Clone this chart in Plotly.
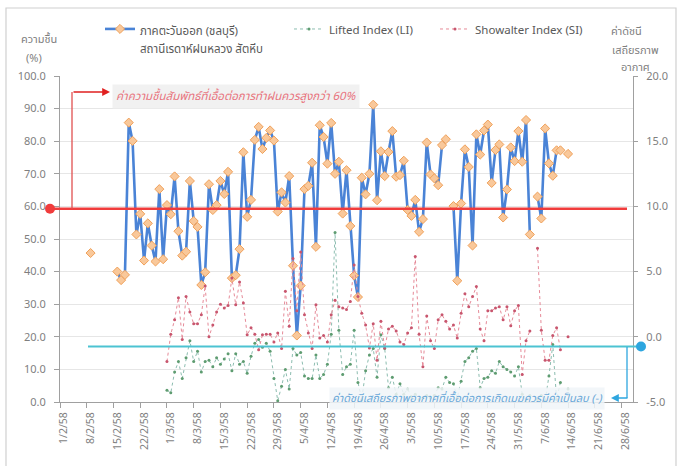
import datetime as dt
import plotly.graph_objects as go

# ---------------- data ----------------
tick_dates = ["2015-02-01", "2015-02-08", "2015-02-15", "2015-02-22", "2015-03-01", "2015-03-08",
              "2015-03-15", "2015-03-22", "2015-03-29", "2015-04-05", "2015-04-12", "2015-04-19",
              "2015-04-26", "2015-05-03", "2015-05-10", "2015-05-17", "2015-05-24", "2015-05-31",
              "2015-06-07", "2015-06-14", "2015-06-21", "2015-06-28"]
tick_labels = ["1/2/58", "8/2/58", "15/2/58", "22/2/58", "1/3/58", "8/3/58", "15/3/58", "22/3/58",
               "29/3/58", "5/4/58", "12/4/58", "19/4/58", "26/4/58", "3/5/58", "10/5/58", "17/5/58",
               "24/5/58", "31/5/58", "7/6/58", "14/6/58", "21/6/58", "28/6/58"]

# relative humidity (%), daily from 9/2/58 (None = no observation)
humidity_start = "2015-02-09"
humidity = [45.7, None, None, None, None, None, None,
            40.0, 37.4, 39.0, 85.7, 80.1, 51.4, 57.7, 43.4, 54.8, 48.0, 43.1, 65.3, 43.8,
            60.4, 57.6, 69.2, 52.4, 44.9, 46.1, 67.8, 55.5, 53.7, 35.9, 39.8, 66.8, 58.9,
            60.4, 67.8, 63.8, 70.6, 38.0, 38.9, 46.9, 76.6, 56.8, 62.0, 80.4, 84.4, 77.6,
            81.0, 83.3, 80.2, 58.4, 64.3,
            61.2, 69.3, 41.8, 20.4, 35.7, 65.3, 66.3, 73.4, 47.6, 84.9, 81.3, 73.1, 85.6,
            70.0, 73.7, 57.8, 71.1, 54.0, 38.8, 32.2, 68.8, 63.7, 70.0, 91.2, 61.9, 76.9,
            69.3, 76.7, 83.1, 69.1,
            69.6, 74.0, 58.9, 57.1, 62.0, 52.2, 56.1, 79.6, 69.8, 68.6, 66.5, 78.8, 80.6,
            None, 60.1, 37.2, 60.9, 77.5, 72.1, 48.0, 82.1, 75.9, 83.3, 85.1, 67.2, 77.3,
            79.0, 56.6, 65.2, 78.1, 73.9,
            83.1, 73.7, 86.5, 51.4, None, 63.0, 56.3, 83.9, 73.2, 69.4, 77.2, 77.2, None, 76.1]

# stability indices, daily from 1/3/58
index_start = "2015-03-01"
lifted_index = [-4.1, -4.3, -2.7, -1.9, -3.2, -1.6, -0.3, -1.9, -1.1, -2.7, -1.9, -1.8, -2.3,
                -1.6, -2.1, -1.7, -1.3, -2.6, -1.3, -2.1, -1.9, -2.8, -1.5, -0.5, -0.2, -0.8,
                -0.5, -1.1, -3.2, -4.9, -3.8,
                -2.5, -4.0, -0.9, -1.4, -1.2, -3.0, -3.2, -3.2, -1.4, -3.2, -2.9, -2.1, 0.2,
                8.0, 0.5, -2.9, -2.3, -2.1, 0.5, -3.5, -4.8, -2.6, -1.4, -0.9, -3.1, 0.15,
                -0.9, -3.9, -3.1, -4.4,
                -3.6, -4.4, -4.0, -4.6, -4.4, -4.8, -4.7, -4.5, -4.7, -4.5, -3.9, -4.0, -3.1,
                -3.5, -3.6, -4.7, -3.4, -1.9, -1.6, -1.1, -0.9, -3.9, -3.2, -3.1, -2.6, -2.8,
                -1.9, -2.3, -2.5, -2.7, -3.0,
                -2.3, -4.4, -5.0, -4.5, None, -4.8, -4.5, -4.9, -3.0, -0.6, -4.8, -3.5, None, -4.0]
showalter_index = [-1.9, 0.2, 1.3, 3.0, -0.2, 3.1, 1.9, 1.0, 1.0, 1.7, 3.9, 0.0, 0.9,
                   1.9, 2.5, 2.2, 2.4, 4.5, 2.45, 4.2, 2.6, 0.15, 0.7, 0.2, -1.0, 0.15,
                   0.2, 0.2, -0.4, 0.3, -0.9,
                   3.5, 0.8, 6.0, 2.0, 6.5, 1.7, 0.3, -0.9, 2.45, -0.1, 0.1, -0.4, 1.7,
                   2.8, 2.3, 2.2, 2.1, 2.7, 5.5, 3.1, 1.8, 0.9, -0.85, 1.0, -1.8, 1.2,
                   -0.85, 0.6, 0.8, 0.45,
                   -0.4, -0.6, 0.3, 0.7, 6.15, 0.2, -2.3, 1.6, -0.3, -0.9, 1.3, 1.7, 1.2,
                   0.6, 0.9, -0.1, 1.8, 3.3, 2.3, 3.1, 3.85, 0.6, -0.3, 2.0, 2.0, 2.2,
                   2.3, 1.3, 2.3, 0.85, 2.0,
                   2.4, -2.9, -0.3, 0.45, None, 6.8, 0.5, -1.8, -1.8, 0.1, 0.7, -1.0, None, 0.0]

rh_threshold = 59.3        # red reference line (left axis)
si_threshold = 17.0        # cyan reference line drawn on left-axis scale

station_lines = ["ภาคตะวันออก (ชลบุรี)", "สถานีเรดาห์ฝนหลวง สัตหีบ"]
series_names = ["<br>".join(f"<span style='font-size:11.5px'>{s}</span>" for s in station_lines),
                "Lifted Index (LI)", "Showalter Index (SI)"]


def daily(start, n):
    d0 = dt.date.fromisoformat(start)
    return [(d0 + dt.timedelta(days=i)).isoformat() for i in range(n)]


FONT = "Noto Sans Thai, Tahoma, Noto Sans, DejaVu Sans, sans-serif"
GRAY = "#7f7f7f"

fig = go.Figure()
fig.add_trace(go.Scatter(
    x=daily(humidity_start, len(humidity)), y=humidity, name=series_names[0],
    mode="lines+markers", connectgaps=False,
    line=dict(color="#4A83D6", width=2.6),
    marker=dict(symbol="diamond", size=7, color="#F9C89A", line=dict(color="#F0A15A", width=1)),
    legend="legend"))
fig.add_trace(go.Scatter(
    x=daily(index_start, len(lifted_index)), y=lifted_index, name=series_names[1],
    mode="lines+markers", yaxis="y2",
    line=dict(color="#8CBDB0", width=1, dash="dot"),
    marker=dict(size=3, color="#5E9C70"),
    legend="legend2"))
fig.add_trace(go.Scatter(
    x=daily(index_start, len(showalter_index)), y=showalter_index, name=series_names[2],
    mode="lines+markers", yaxis="y2",
    line=dict(color="#E68A98", width=1, dash="dot"),
    marker=dict(size=3, color="#C8566E"),
    legend="legend3"))

# plot area pixel geometry helpers
L, R, T, B = 60, 46, 76, 64
PW, PH = 679 - L - R, 466 - T - B


def px(x):
    return (x - L) / PW


def py(y):
    return (466 - B - y) / PH


shapes = [
    # outer border
    dict(type="rect", xref="paper", yref="paper", x0=px(6), x1=px(676), y0=py(470), y1=py(8),
         line=dict(color="#D0D0D0", width=1.2), layer="below"),
    # red RH threshold line + connector
    dict(type="line", xref="paper", yref="y", x0=px(50), x1=px(627), y0=rh_threshold, y1=rh_threshold,
         line=dict(color="#F03C3C", width=2.5)),
    dict(type="line", xref="paper", yref="paper", x0=px(72), x1=px(72), y0=py(209), y1=py(92),
         line=dict(color="#E05050", width=1.3)),
    dict(type="circle", xref="paper", yref="y", xsizemode="pixel", ysizemode="pixel",
         xanchor=px(50), yanchor=rh_threshold, x0=-5, x1=5, y0=-5, y1=5,
         fillcolor="#F03C3C", line=dict(color="#F03C3C", width=0)),
    # cyan stability line + connector
    dict(type="line", xref="paper", yref="y", x0=px(88), x1=px(641), y0=si_threshold, y1=si_threshold,
         line=dict(color="#4CC3D2", width=2)),
    dict(type="line", xref="paper", yref="paper", x0=px(627), x1=px(627), y0=py(347), y1=py(398),
         line=dict(color="#2EA6DF", width=1.3)),
    dict(type="circle", xref="paper", yref="y", xsizemode="pixel", ysizemode="pixel",
         xanchor=px(641), yanchor=si_threshold, x0=-5, x1=5, y0=-5, y1=5,
         fillcolor="#2EA6DF", line=dict(color="#2EA6DF", width=0)),
]


def label(x, y, text, size=11, color=GRAY, **kw):
    return dict(xref="paper", yref="paper", x=px(x), y=py(y), text=text, showarrow=False,
                xanchor="center", yanchor="middle", font=dict(family=FONT, size=size, color=color),
                **kw)


annotations = [
    dict(xref="paper", yref="paper", x=px(110), y=py(92), ax=-38, ay=0, text="", showarrow=True,
         arrowhead=2, arrowsize=1.2, arrowwidth=1.3, arrowcolor="#E02020"),
    label(236, 96, "<i>ค่าความชื้นสัมพัทธ์ที่เอื้อต่อการทำฝนควรสูงกว่า 60%</i>", size=11.5,
          color="#E8747E", bgcolor="rgba(238,238,238,0.85)", borderpad=3),
    dict(xref="paper", yref="paper", x=px(611), y=py(398), ax=18, ay=0, text="", showarrow=True,
         arrowhead=2, arrowsize=1.2, arrowwidth=1.3, arrowcolor="#2EA6DF"),
    label(467, 398, "<i>ค่าดัชนีเสถียรภาพอากาศที่เอื้อต่อการเกิดเมฆควรมีค่าเป็นลบ (-)</i>", size=11,
          color="#6AA8D8", bgcolor="rgba(240,244,248,0.85)", borderpad=2),
    label(39, 40, "ความชื้น"),
    label(34, 58, "(%)"),
    label(626, 32, "ค่าดัชนี"),
    label(635, 50, "เสถียรภาพ"),
    label(635, 68, "อากาศ"),
]

legend_common = dict(orientation="h", xanchor="left", yanchor="top", bgcolor="rgba(0,0,0,0)",
                     valign="top", itemwidth=30)

fig.update_layout(
    width=679, height=466,
    margin=dict(l=L, r=R, t=T, b=B, autoexpand=False),
    paper_bgcolor="white", plot_bgcolor="white",
    font=dict(family=FONT, size=11, color=GRAY),
    showlegend=True,
    legend=dict(x=px(100), y=py(13), font=dict(family=FONT, size=14.5, color="#595959"),
                **legend_common),
    legend2=dict(x=px(289), y=py(15), font=dict(family=FONT, size=11.5, color="#595959"),
                 **legend_common),
    legend3=dict(x=px(435), y=py(15), font=dict(family=FONT, size=11.5, color="#595959"),
                 **legend_common),
    xaxis=dict(type="date", range=["2015-02-01", "2015-07-01"], tickvals=tick_dates,
               ticktext=tick_labels, tickangle=-90, ticks="outside", ticklen=5,
               tickcolor="#A0A0A0", showline=True, linecolor="#A0A0A0", showgrid=False,
               zeroline=False, ticklabelshift=4,
               tickfont=dict(size=10.5, color=GRAY)),
    yaxis=dict(range=[0, 100], dtick=10, tickformat=".1f", showgrid=True, gridcolor="#E6E6E6",
               showline=True, linecolor="#A0A0A0", ticks="outside", ticklen=5,
               tickcolor="#A0A0A0", zeroline=False, ticklabelstandoff=6,
               tickfont=dict(size=11, color=GRAY)),
    yaxis2=dict(range=[-5, 20], dtick=5, tickformat=".1f", overlaying="y", side="right",
                showgrid=False, showline=True, linecolor="#A0A0A0", ticks="outside",
                ticklen=4, tickcolor="#A0A0A0", zeroline=False, ticklabelstandoff=6,
                tickfont=dict(size=11, color=GRAY)),
    shapes=shapes,
    annotations=annotations,
)

fig.write_html("out.html", config={"displayModeBar": False},
               post_script="document.body.style.margin='0px';")
